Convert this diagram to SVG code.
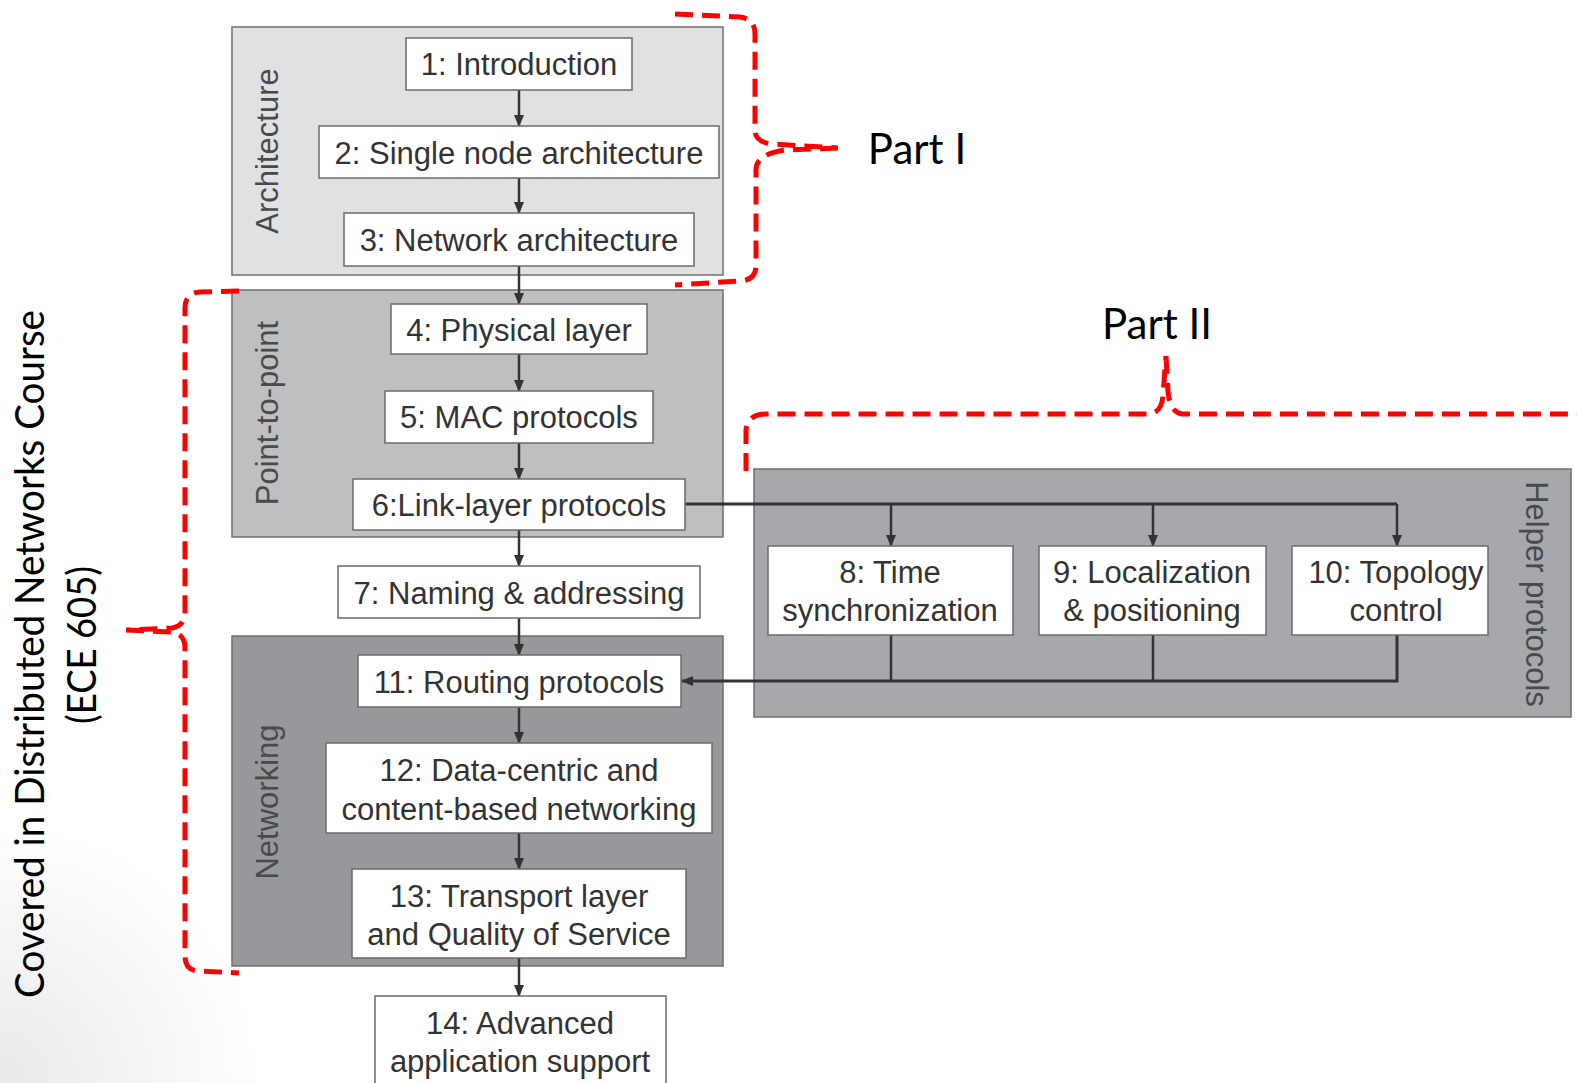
<svg xmlns="http://www.w3.org/2000/svg" width="1577" height="1083" viewBox="0 0 1577 1083">
  <defs>
    <marker id="arrow" markerUnits="userSpaceOnUse" markerWidth="12" markerHeight="12" viewBox="0 0 12 12" refX="11" refY="6" orient="auto">
      <path d="M0,1 L12,6 L0,11 Z" fill="#333"/>
    </marker>
    <radialGradient id="corner" cx="0" cy="1083" r="260" gradientUnits="userSpaceOnUse">
      <stop offset="0" stop-color="#e9e9e9"/>
      <stop offset="1" stop-color="#ffffff"/>
    </radialGradient>
    <style>
      .grp { stroke: #6f6f72; stroke-width: 1.5; }
      .node rect { fill: #ffffff; stroke: #6b6b6b; stroke-width: 1.5; }
      .lbl { font-family: "Liberation Sans", Arial, sans-serif; font-size: 31px; fill: #333; text-anchor: middle; }
      .glbl { font-family: "Liberation Sans", Arial, sans-serif; font-size: 31px; fill: #4a4a4c; text-anchor: middle; }
      .edge { fill: none; stroke: #333; stroke-width: 2.5; }
      .bus { fill: none; stroke: #333; stroke-width: 3; }
      .brace { fill: none; stroke: #ff0000; stroke-width: 5; stroke-dasharray: 18 9; stroke-linecap: butt; }
      .note { font-family: Lato, "Open Sans", sans-serif; fill: #000; text-anchor: middle; }
    </style>
  </defs>

  <rect x="0" y="0" width="1577" height="1083" fill="#ffffff"/>
  <rect x="0" y="820" width="300" height="263" fill="url(#corner)"/>

  <!-- group panels -->
  <g id="group-architecture">
    <rect class="grp" x="232" y="27" width="491" height="248" fill="#e0e1e3"/>
    <text class="glbl" transform="translate(278,151) rotate(-90)">Architecture</text>
  </g>
  <g id="group-point-to-point">
    <rect class="grp" x="232" y="290" width="491" height="247" fill="#bebfc1"/>
    <text class="glbl" transform="translate(278,413) rotate(-90)">Point-to-point</text>
  </g>
  <g id="group-networking">
    <rect class="grp" x="232" y="636" width="491" height="330" fill="#97989b"/>
    <text class="glbl" transform="translate(278,802) rotate(-90)">Networking</text>
  </g>
  <g id="group-helper">
    <rect class="grp" x="754" y="469" width="817" height="248" fill="#a7a8ab"/>
    <text class="glbl" transform="translate(1526,594) rotate(90)">Helper protocols</text>
  </g>

  <!-- connectors -->
  <g id="connectors">
    <line class="edge" x1="519" y1="90" x2="519" y2="126" marker-end="url(#arrow)"/>
    <line class="edge" x1="519" y1="178" x2="519" y2="213" marker-end="url(#arrow)"/>
    <line class="edge" x1="519" y1="266" x2="519" y2="304" marker-end="url(#arrow)"/>
    <line class="edge" x1="519" y1="354" x2="519" y2="391" marker-end="url(#arrow)"/>
    <line class="edge" x1="519" y1="443" x2="519" y2="479" marker-end="url(#arrow)"/>
    <line class="edge" x1="519" y1="530" x2="519" y2="566" marker-end="url(#arrow)"/>
    <line class="edge" x1="519" y1="618" x2="519" y2="655" marker-end="url(#arrow)"/>
    <line class="edge" x1="519" y1="707" x2="519" y2="743" marker-end="url(#arrow)"/>
    <line class="edge" x1="519" y1="833" x2="519" y2="869" marker-end="url(#arrow)"/>
    <line class="edge" x1="519" y1="958" x2="519" y2="996" marker-end="url(#arrow)"/>
    <!-- link layer fan-out to helper protocols -->
    <line class="bus" x1="685" y1="504" x2="1397" y2="504"/>
    <line class="edge" x1="891" y1="504" x2="891" y2="546" marker-end="url(#arrow)"/>
    <line class="edge" x1="1153" y1="504" x2="1153" y2="546" marker-end="url(#arrow)"/>
    <line class="edge" x1="1397" y1="504" x2="1397" y2="546" marker-end="url(#arrow)"/>
    <!-- helper protocols back into routing -->
    <line class="edge" x1="891" y1="635" x2="891" y2="681"/>
    <line class="edge" x1="1153" y1="635" x2="1153" y2="681"/>
    <polyline class="bus" points="1397,635 1397,681 682,681" marker-end="url(#arrow)"/>
  </g>

  <!-- chapter nodes -->
  <g id="n1" class="node"><rect x="406" y="38" width="226" height="52"/><text class="lbl" x="519" y="75">1: Introduction</text></g>
  <g id="n2" class="node"><rect x="319" y="126" width="400" height="52"/><text class="lbl" x="519" y="164">2: Single node architecture</text></g>
  <g id="n3" class="node"><rect x="344" y="213" width="350" height="53"/><text class="lbl" x="519" y="251">3: Network architecture</text></g>
  <g id="n4" class="node"><rect x="391" y="304" width="256" height="50"/><text class="lbl" x="519" y="341">4: Physical layer</text></g>
  <g id="n5" class="node"><rect x="385" y="391" width="268" height="52"/><text class="lbl" x="519" y="428">5: MAC protocols</text></g>
  <g id="n6" class="node"><rect x="353" y="479" width="332" height="51"/><text class="lbl" x="519" y="516">6:Link-layer protocols</text></g>
  <g id="n7" class="node"><rect x="338" y="566" width="362" height="52"/><text class="lbl" x="519" y="604">7: Naming &amp; addressing</text></g>
  <g id="n8" class="node"><rect x="768" y="546" width="245" height="89"/><text class="lbl" x="890" y="583">8: Time</text><text class="lbl" x="890" y="621">synchronization</text></g>
  <g id="n9" class="node"><rect x="1039" y="546" width="227" height="89"/><text class="lbl" x="1152" y="583">9: Localization</text><text class="lbl" x="1152" y="621">&amp; positioning</text></g>
  <g id="n10" class="node"><rect x="1292" y="546" width="196" height="89"/><text class="lbl" x="1396" y="583">10: Topology</text><text class="lbl" x="1396" y="621">control</text></g>
  <g id="n11" class="node"><rect x="358" y="655" width="323" height="52"/><text class="lbl" x="519" y="693">11: Routing protocols</text></g>
  <g id="n12" class="node"><rect x="326" y="743" width="386" height="90"/><text class="lbl" x="519" y="781">12: Data-centric and</text><text class="lbl" x="519" y="820">content-based networking</text></g>
  <g id="n13" class="node"><rect x="352" y="869" width="334" height="89"/><text class="lbl" x="519" y="907">13: Transport layer</text><text class="lbl" x="519" y="945">and Quality of Service</text></g>
  <g id="n14" class="node"><rect x="375" y="996" width="291" height="100"/><text class="lbl" x="520" y="1034">14: Advanced</text><text class="lbl" x="520" y="1072">application support</text></g>

  <!-- course annotations -->
  <g id="part-one">
    <path class="brace" d="M675,14 L740,17 Q755,19 755,34 L755,130 Q755,142 772,144 L838,148 M838,148 L785,150 Q756,154 756,170 L756,266 Q756,280 740,281 L675,285"/>
    <text class="note" x="917" y="164" font-size="42">Part I</text>
  </g>
  <g id="part-two">
    <path class="brace" d="M746,471 L746,430 Q748,414 766,414 L1150,414 Q1162,412 1163,395 L1166,356 M1166,356 L1168,392 Q1170,412 1182,414 L1577,414"/>
    <text class="note" x="1157" y="339" font-size="42">Part II</text>
  </g>
  <g id="course-605">
    <path class="brace" d="M239,291 L200,292 Q185,293 185,308 L185,612 Q185,626 172,628 L126,630 M126,630 L172,632 Q185,634 185,648 L185,956 Q185,971 200,971 L239,973"/>
    <text class="note" font-size="40" transform="translate(44,654) rotate(-90)" textLength="688" lengthAdjust="spacingAndGlyphs">Covered in Distributed Networks Course</text>
    <text class="note" font-size="40" transform="translate(96,645) rotate(-90)" textLength="158" lengthAdjust="spacingAndGlyphs">(ECE 605)</text>
  </g>
</svg>
